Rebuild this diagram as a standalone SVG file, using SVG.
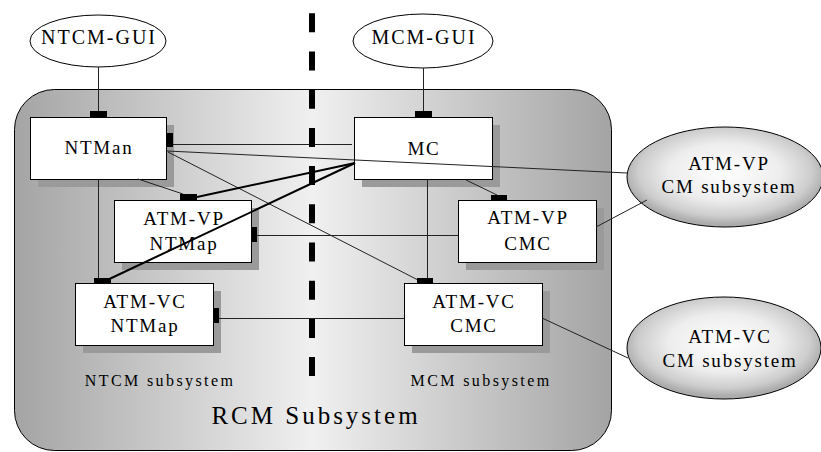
<svg xmlns="http://www.w3.org/2000/svg" width="821" height="452" viewBox="0 0 821 452">
<defs>
<linearGradient id="bg" x1="14" y1="0" x2="611" y2="0" gradientUnits="userSpaceOnUse">
<stop offset="0" stop-color="#a4a4a4"/>
<stop offset="0.5" stop-color="#f0f0f0"/>
<stop offset="1" stop-color="#a4a4a4"/>
</linearGradient>
<radialGradient id="eg" cx="50%" cy="45%" r="52%">
<stop offset="0" stop-color="#ffffff"/>
<stop offset="0.55" stop-color="#ededed"/>
<stop offset="0.85" stop-color="#cdcdcd"/>
<stop offset="1" stop-color="#acacac"/>
</radialGradient>
<style>
.box{fill:#fff;stroke:#000;stroke-width:1}
.sh{fill:#9a9a9a}
.port{fill:#000}
.gui{fill:#fff;stroke:#000;stroke-width:1}
.ext{fill:url(#eg);stroke:#000;stroke-width:1}
.t{font-family:"Liberation Serif","Times New Roman",serif;font-size:19px;letter-spacing:1.8px;text-anchor:middle;fill:#000}
.tg{font-family:"Liberation Serif","Times New Roman",serif;font-size:20px;letter-spacing:2px;text-anchor:middle;fill:#000}
.ts{font-family:"Liberation Serif","Times New Roman",serif;font-size:16px;letter-spacing:2.4px;text-anchor:middle;fill:#000}
.tb{font-family:"Liberation Serif","Times New Roman",serif;font-size:25px;letter-spacing:3px;text-anchor:middle;fill:#000}
.c{stroke:#222;stroke-width:1;fill:none}
.ck{stroke:#000;stroke-width:2;fill:none}
.div{stroke:#000;stroke-width:6;stroke-dasharray:19 19.2;fill:none}
</style>
</defs>

<g id="rcm-subsystem">
<rect x="14.5" y="89.5" width="597" height="361" rx="40" ry="40" fill="url(#bg)" stroke="#000" stroke-width="1"/>
<text class="ts" x="160" y="386">NTCM subsystem</text>
<text class="ts" x="481" y="386">MCM subsystem</text>
<text class="tb" x="316" y="424">RCM Subsystem</text>
</g>

<g id="ntcm-gui">
<ellipse class="gui" cx="98" cy="41" rx="68" ry="26"/>
<text class="tg" x="99" y="44">NTCM-GUI</text>
</g>

<g id="mcm-gui">
<ellipse class="gui" cx="423" cy="41" rx="70" ry="27"/>
<text class="tg" x="424" y="44">MCM-GUI</text>
</g>

<g id="ntman">
<rect class="sh" x="38" y="125" width="136" height="62"/>
<rect class="box" x="30.5" y="117.5" width="136" height="62"/>
<text class="t" x="99" y="154">NTMan</text>
</g>

<g id="mc">
<rect class="sh" x="362" y="125" width="138" height="62"/>
<rect class="box" x="354.5" y="117.5" width="138" height="62"/>
<text class="t" x="424" y="155">MC</text>
</g>

<g id="atm-vp-ntmap">
<rect class="sh" x="122" y="208" width="137" height="62"/>
<rect class="box" x="114.5" y="200.5" width="137" height="62"/>
<text class="t" x="184" y="225">ATM-VP</text>
<text class="t" x="184" y="250">NTMap</text>
</g>

<g id="atm-vp-cmc">
<rect class="sh" x="466" y="208" width="138" height="62"/>
<rect class="box" x="458.5" y="200.5" width="138" height="62"/>
<text class="t" x="528" y="224">ATM-VP</text>
<text class="t" x="528" y="250">CMC</text>
</g>

<g id="atm-vc-ntmap">
<rect class="sh" x="83" y="291" width="138" height="62"/>
<rect class="box" x="75.5" y="283.5" width="138" height="62"/>
<text class="t" x="145" y="308">ATM-VC</text>
<text class="t" x="145" y="332">NTMap</text>
</g>

<g id="atm-vc-cmc">
<rect class="sh" x="412" y="291" width="138" height="62"/>
<rect class="box" x="404.5" y="283.5" width="138" height="62"/>
<text class="t" x="474" y="308">ATM-VC</text>
<text class="t" x="474" y="332">CMC</text>
</g>

<g id="atm-vp-cm-subsystem">
<ellipse class="ext" cx="725" cy="177" rx="98" ry="50"/>
<text class="t" x="729" y="170">ATM-VP</text>
<text class="t" x="729" y="193">CM subsystem</text>
</g>

<g id="atm-vc-cm-subsystem">
<ellipse class="ext" cx="724" cy="348" rx="97" ry="51"/>
<text class="t" x="730" y="343">ATM-VC</text>
<text class="t" x="730" y="367">CM subsystem</text>
</g>

<g id="connectors">
<line class="c" x1="98.5" y1="67" x2="98.5" y2="111"/>
<line class="c" x1="423.5" y1="68" x2="423.5" y2="111"/>
<line class="c" x1="173" y1="144.5" x2="352" y2="144.5"/>
<line class="c" x1="167" y1="151" x2="627" y2="173"/>
<line class="c" x1="138" y1="179" x2="183" y2="194"/>
<line class="c" x1="168" y1="152" x2="418" y2="280"/>
<line class="c" x1="98.5" y1="180" x2="98.5" y2="278"/>
<line class="c" x1="427.5" y1="180" x2="427.5" y2="278"/>
<line class="c" x1="466" y1="180" x2="497" y2="195"/>
<line class="c" x1="257" y1="235.5" x2="458" y2="235.5"/>
<line class="c" x1="219" y1="318.5" x2="404" y2="318.5"/>
<line class="c" x1="596" y1="227" x2="647" y2="200"/>
<line class="c" x1="542" y1="318" x2="628" y2="358"/>
<line class="ck" x1="355" y1="163" x2="197" y2="197"/>
<line class="ck" x1="355" y1="163" x2="103" y2="282"/>
</g>

<g id="ports">
<rect class="port" x="90" y="111" width="17" height="6"/>
<rect class="port" x="166" y="133" width="7" height="14"/>
<rect class="port" x="415" y="111" width="17" height="6"/>
<rect class="port" x="180" y="194" width="17" height="6"/>
<rect class="port" x="251" y="227" width="6" height="15"/>
<rect class="port" x="491" y="195" width="16" height="6"/>
<rect class="port" x="94" y="278" width="17" height="6"/>
<rect class="port" x="213" y="308" width="6" height="15"/>
<rect class="port" x="417" y="278" width="16" height="6"/>
</g>

<line class="div" x1="312" y1="13.3" x2="312" y2="376"/>
</svg>
